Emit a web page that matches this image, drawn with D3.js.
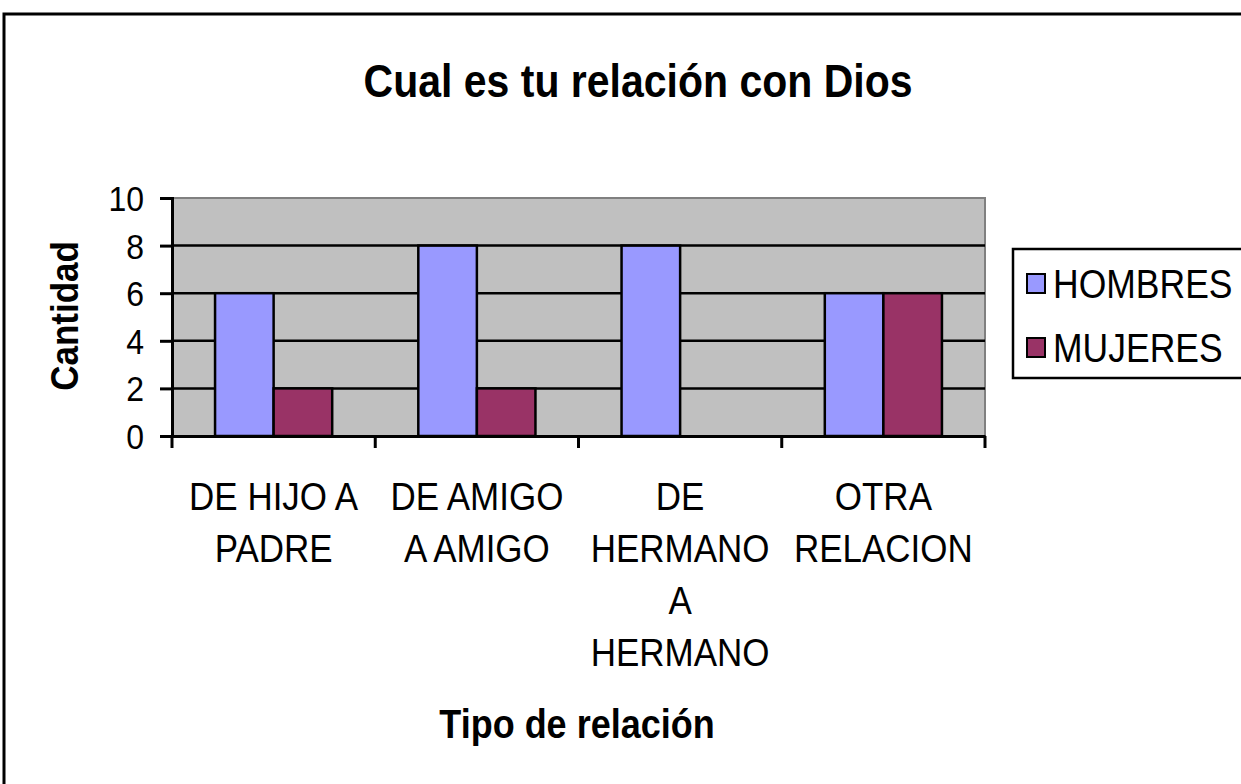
<!DOCTYPE html>
<html>
<head>
<meta charset="utf-8">
<script src="https://cdn.jsdelivr.net/npm/d3@7"></script>
<style>
  html, body { margin: 0; padding: 0; background: #fff; }
  svg { display: block; font-family: "Liberation Sans", Arial, sans-serif; }
</style>
</head>
<body>
<div id="chart"></div>
<script>
// chart data
const categories = ["DE HIJO A PADRE", "DE AMIGO A AMIGO", "DE HERMANO A HERMANO", "OTRA RELACION"];
const categoryLines = [
    ["DE HIJO A", "PADRE"],
    ["DE AMIGO", "A AMIGO"],
    ["DE", "HERMANO", "A", "HERMANO"],
    ["OTRA", "RELACION"]
];
const seriesNames = ["HOMBRES", "MUJERES"];
const hombres = [6, 8, 8, 6];
const mujeres = [2, 2, 0, 6];
const yTicks = [0, 2, 4, 6, 8, 10];
const colors = ["#9999FF", "#993366"];

const W = 1241, H = 784;
const stretch = 1.12; // text in the source is slightly taller than normal

const svg = d3.select("#chart").append("svg")
    .attr("width", W).attr("height", H);

// outer frame (cut off at right and bottom)
svg.append("rect")
    .attr("x", 4).attr("y", 14)
    .attr("width", 1400).attr("height", 1000)
    .attr("fill", "none").attr("stroke", "#000").attr("stroke-width", 3);

function addText(x, y, str, size, opts = {}) {
    const rot = opts.rotate ? ` rotate(${opts.rotate})` : "";
    return svg.append("text")
        .attr("transform", `translate(${x},${y})${rot} scale(1,${stretch})`)
        .attr("text-anchor", opts.anchor || "middle")
        .attr("font-size", size)
        .attr("font-weight", opts.bold ? "bold" : "normal")
        .attr("fill", "#000")
        .text(str);
}

const plot = { left: 172, right: 985, top: 198, bottom: 436 };

const x = d3.scaleBand().domain(categories).range([plot.left, plot.right]).padding(0);
const xInner = d3.scaleBand().domain(seriesNames).range([0, x.bandwidth()])
    .paddingInner(0).paddingOuter(0.735);
const y = d3.scaleLinear().domain([0, 10]).range([plot.bottom, plot.top]);

// plot background
svg.append("rect")
    .attr("x", plot.left).attr("y", plot.top)
    .attr("width", plot.right - plot.left).attr("height", plot.bottom - plot.top)
    .attr("fill", "#C0C0C0").attr("stroke", "#808080").attr("stroke-width", 2);

// gridlines
svg.append("g").selectAll("line")
    .data(yTicks.filter(d => d > 0 && d < 10))
    .join("line")
    .attr("x1", plot.left).attr("x2", plot.right)
    .attr("y1", d => y(d)).attr("y2", d => y(d))
    .attr("stroke", "#000").attr("stroke-width", 2.5);

// bars
const rows = categories.map((c, i) => ({ cat: c, values: [hombres[i], mujeres[i]] }));
const groups = svg.append("g").selectAll("g")
    .data(rows).join("g")
    .attr("transform", d => `translate(${x(d.cat)},0)`);
groups.selectAll("rect")
    .data(d => d.values.map((v, j) => ({ name: seriesNames[j], v, j })).filter(e => e.v > 0))
    .join("rect")
    .attr("x", d => xInner(d.name))
    .attr("width", xInner.bandwidth())
    .attr("y", d => y(d.v))
    .attr("height", d => y(0) - y(d.v))
    .attr("fill", d => colors[d.j])
    .attr("stroke", "#000").attr("stroke-width", 2.5);

// y axis
const yAxis = svg.append("g")
    .attr("transform", `translate(${plot.left},0)`)
    .call(d3.axisLeft(y).tickValues(yTicks).tickSize(12).tickFormat(""));
yAxis.selectAll("line, path").attr("stroke", "#000").attr("stroke-width", 3);
yTicks.forEach(t => addText(plot.left - 28, y(t) + 13, String(t), 32, { anchor: "end" }));

// x axis
const xAxis = svg.append("g")
    .attr("transform", `translate(0,${plot.bottom})`)
    .call(d3.axisBottom(x).tickSize(0).tickFormat(""));
xAxis.select("path").attr("stroke", "#000").attr("stroke-width", 3);
const boundaries = categories.map(c => x(c)).concat([plot.right]);
svg.append("g").selectAll("line")
    .data(boundaries).join("line")
    .attr("x1", d => d).attr("x2", d => d)
    .attr("y1", plot.bottom).attr("y2", plot.bottom + 12)
    .attr("stroke", "#000").attr("stroke-width", 3);

categoryLines.forEach((lines, i) => {
    const cx = x(categories[i]) + x.bandwidth() / 2;
    lines.forEach((ln, k) => addText(cx, 510 + k * 52, ln, 35));
});

// titles
addText(638, 97, "Cual es tu relación con Dios", 41, { bold: true });
addText(577, 738, "Tipo de relación", 36, { bold: true });
addText(78, 316, "Cantidad", 35, { bold: true, rotate: -90 });

// legend
svg.append("rect")
    .attr("x", 1013).attr("y", 249)
    .attr("width", 400).attr("height", 129)
    .attr("fill", "#fff").attr("stroke", "#000").attr("stroke-width", 2.5);
seriesNames.forEach((name, i) => {
    const base = 298 + i * 64;
    svg.append("rect")
        .attr("x", 1027).attr("y", base - 24)
        .attr("width", 18).attr("height", 19)
        .attr("fill", colors[i]).attr("stroke", "#000").attr("stroke-width", 2);
    addText(1053, base, name, 35.5, { anchor: "start" });
});
</script>
</body>
</html>
